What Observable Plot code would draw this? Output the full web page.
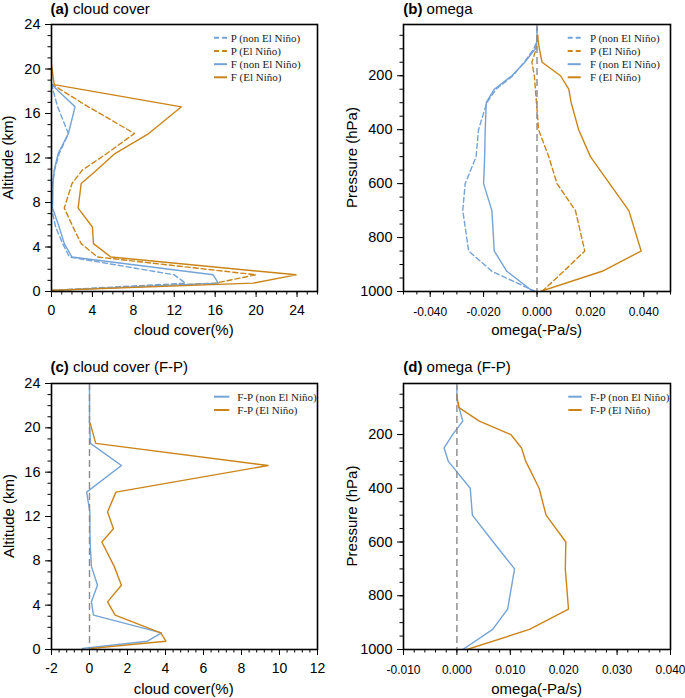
<!DOCTYPE html>
<html><head><meta charset="utf-8">
<script src="https://cdn.jsdelivr.net/npm/d3@7"></script>
<script src="https://cdn.jsdelivr.net/npm/@observablehq/plot@0.6"></script>
<style>
body{margin:0;background:#fff;}
#root{position:relative;width:685px;height:698px;font-family:"Liberation Sans",Arial,Helvetica,sans-serif;}
.pn{position:absolute;}
#ov{position:absolute;left:0;top:0;pointer-events:none;}
</style></head><body><div id="root"></div>
<script>
// Pressure levels (hPa) and their approximate altitudes (km)
const levels    = [1000, 925, 850, 700, 600, 500, 400, 300, 250, 200, 150, 100, 70, 50, 30, 20];
const altitudes = [0.1, 0.75, 1.5, 3.1, 4.3, 5.8, 7.5, 9.7, 10.9, 12.4, 14.2, 16.6, 18.6, 20.4, 23.8, 26.5];

// (a) cloud cover (%)
const cldP_non = [0, 13.1, 12.0, 1.75, 1.1, 0.4, 0.0, 0.1, 0.3, 0.75, 1.65, 0.6, 0, null, null, null];
const cldP_el  = [0, 16.0, 20.0, 4.5, 2.9, 2.1, 1.25, 2.0, 3.0, 5.4, 8.1, 3.6, 0.1, null, null, null];
const cldF_non = [0, 16.3, 15.8, 2.0, 1.25, 0.75, 0.1, 0.15, 0.26, 0.65, 1.65, 2.3, 0, null, null, null];
const cldF_el  = [0, 19.7, 23.9, 5.8, 4.1, 4.0, 2.6, 2.9, 4.4, 6.2, 9.5, 12.7, 0.26, 0, null, null];

// (b) omega (-Pa/s)
const omgP_non = [-0.0006, -0.0169, -0.0256, -0.0278, -0.0269, -0.0228, -0.0219, -0.0188, -0.0153, -0.0090, -0.0048, -0.0012, 0, 0, 0, 0];
const omgP_el  = [0.0019, 0.0100, 0.0179, 0.0144, 0.0075, 0.0044, 0.0006, -0.0002, -0.0006, -0.0010, -0.0019, -0.0003, 0, 0, null, null];
const omgF_non = [-0.0015, -0.0113, -0.0160, -0.0169, -0.0200, -0.0196, -0.0194, -0.0190, -0.0160, -0.0094, -0.0046, -0.0006, 0, 0, 0, 0];
const omgF_el  = [0.00125, 0.0244, 0.0390, 0.0344, 0.0272, 0.0200, 0.0156, 0.0128, 0.0119, 0.0088, 0.0019, 0.0009, 0.0004, 0.0003, null, null];

// (c) cloud cover F-P (%)
const cldFP_non = [-0.37, 3.05, 3.79, 0.21, 0.1, 0.42, 0.1, 0.03, 0.02, 0.02, -0.15, 1.68, 0.05, 0, 0, null];
const cldFP_el  = [0.1, 4.02, 3.75, 1.35, 0.95, 1.68, 1.3, 0.65, 1.26, 0.95, 1.39, 9.4, 0.33, 0.04, null, null];

// (d) omega F-P (-Pa/s)
const omgFP_non = [0.0011, 0.0067, 0.0095, 0.0108, 0.0068, 0.0029, 0.0025, -0.0016, -0.0024, -0.0008, 0.0011, 0.0004, 0, 0, 0, 0];
const omgFP_el  = [0.0019, 0.0136, 0.0209, 0.0203, 0.0204, 0.0167, 0.0154, 0.0129, 0.0121, 0.0101, 0.0042, 0.0004, 0.0001, 0, null, null];

// Tick values
const cldTicksA  = [0, 4, 8, 12, 16, 20, 24];
const cldTicksC  = [-2, 0, 2, 4, 6, 8, 10, 12];
const altTicks   = [0, 4, 8, 12, 16, 20, 24];
const omgTicksB  = [-0.04, -0.02, 0, 0.02, 0.04];
const omgTicksD  = [-0.01, 0, 0.01, 0.02, 0.03, 0.04];
const presTicks  = [200, 400, 600, 800, 1000];

// Titles / labels / legend text
const titles = [["(a)", " cloud cover"], ["(b)", " omega"], ["(c)", " cloud cover (F-P)"], ["(d)", " omega (F-P)"]];
const xLabels = ["cloud cover(%)", "omega(-Pa/s)", "cloud cover(%)", "omega(-Pa/s)"];
const yLabels = ["Altitude (km)", "Pressure (hPa)", "Altitude (km)", "Pressure (hPa)"];
const legend4 = ["P (non El Niño)", "P (El Niño)", "F (non El Niño)", "F (El Niño)"];
const legend2 = ["F-P (non El Niño)", "F-P (El Niño)"];

const BLUE = "#74a3d8", ORANGE = "#cb8418";

function steps(a, b, s) { const out = []; const n = Math.round((b - a) / s); for (let i = 0; i <= n; i++) out.push(+(a + i * s).toFixed(6)); return out; }
function rows(yv, vals) { return yv.map((y, i) => ({y, v: vals[i]})).filter(d => d.v != null && d.y != null); }

const root = document.getElementById("root");

function panel(o) {
  const marks = [];
  for (const s of o.series) {
    marks.push(Plot.line(rows(o.yv, s.values), {x: "v", y: "y", stroke: s.color, strokeWidth: 1.4,
      strokeDasharray: s.dash ? "5,3" : null, clip: true}));
  }
  if (o.zero) marks.push(Plot.ruleX([0], {stroke: "#8a8a8a", strokeWidth: 1.4, strokeDasharray: "7,4"}));
  marks.push(Plot.axisX({ticks: o.xMinor, tickSize: 3.5, tickFormat: () => "", label: null}));
  marks.push(Plot.axisX({ticks: o.xMajor, tickSize: 6, tickPadding: o.xPad, tickFormat: o.xFmt, label: null, fontSize: o.xFont}));
  marks.push(Plot.axisY({ticks: o.yMinor, tickSize: 3.5, tickFormat: () => "", label: null}));
  marks.push(Plot.axisY({ticks: o.yMajor, tickSize: 6, tickPadding: 5, tickFormat: d => String(d), label: null, fontSize: 14.5}));
  marks.push(Plot.frame({stroke: "#000", strokeWidth: 1.6}));
  const chart = Plot.plot({
    width: o.w, height: o.h,
    marginLeft: o.mL, marginRight: o.mR, marginTop: o.mT, marginBottom: o.mB,
    x: {domain: o.xDomain},
    y: {domain: o.yDomain},
    style: {fontFamily: '"Liberation Sans", Arial, Helvetica, sans-serif', fontSize: "13px", background: "transparent", color: "#000", overflow: "visible"},
    marks
  });
  const d = document.createElement("div");
  d.className = "pn"; d.style.left = o.left + "px"; d.style.top = o.top + "px";
  d.appendChild(chart);
  root.appendChild(d);
}

const fmtOmega = d => d.toFixed(3);
const fmtInt = d => String(d);

panel({left: 0, top: 0, w: 340, h: 345, mL: 51, mR: 23, mT: 24, mB: 54,
  xDomain: [0, 26], yDomain: [0, 24], xMajor: cldTicksA, xMinor: steps(0, 26, 1),
  yMajor: altTicks, yMinor: steps(0, 24, 1), xFmt: fmtInt, xFont: 14, xPad: 8, yv: altitudes, zero: false,
  series: [{values: cldP_non, color: BLUE, dash: true}, {values: cldP_el, color: ORANGE, dash: true},
           {values: cldF_non, color: BLUE}, {values: cldF_el, color: ORANGE}]});

panel({left: 340, top: 0, w: 345, h: 345, mL: 63, mR: 15, mT: 24, mB: 54,
  xDomain: [-0.05, 0.05], yDomain: [1000, 10], xMajor: omgTicksB, xMinor: steps(-0.05, 0.05, 0.005),
  yMajor: presTicks, yMinor: steps(50, 1000, 50), xFmt: fmtOmega, xFont: 12, xPad: 9.5, yv: levels, zero: true,
  series: [{values: omgP_non, color: BLUE, dash: true}, {values: omgP_el, color: ORANGE, dash: true},
           {values: omgF_non, color: BLUE}, {values: omgF_el, color: ORANGE}]});

panel({left: 0, top: 345, w: 340, h: 353, mL: 51, mR: 23, mT: 38, mB: 49,
  xDomain: [-2, 12], yDomain: [0, 24], xMajor: cldTicksC, xMinor: steps(-2, 12, 0.4),
  yMajor: altTicks, yMinor: steps(0, 24, 1), xFmt: fmtInt, xFont: 14, xPad: 8, yv: altitudes, zero: true,
  series: [{values: cldFP_non, color: BLUE}, {values: cldFP_el, color: ORANGE}]});

panel({left: 340, top: 345, w: 345, h: 353, mL: 63, mR: 15, mT: 38, mB: 49,
  xDomain: [-0.01, 0.04], yDomain: [1000, 10], xMajor: omgTicksD, xMinor: steps(-0.01, 0.04, 0.002),
  yMajor: presTicks, yMinor: steps(50, 1000, 50), xFmt: fmtOmega, xFont: 12, xPad: 9.5, yv: levels, zero: true,
  series: [{values: omgFP_non, color: BLUE}, {values: omgFP_el, color: ORANGE}]});

// Overlay: titles, axis labels, legends
const ov = d3.select(root).append("svg").attr("id", "ov").attr("width", 685).attr("height", 698);
const SANS = '"Liberation Sans", Arial, Helvetica, sans-serif';
const SERIF = '"Liberation Serif", "Times New Roman", serif';
const titlePos = [[50.5, 13.5], [403.3, 13.5], [50.5, 372], [403.3, 372]];
titles.forEach((t, i) => {
  const tx = ov.append("text").attr("x", titlePos[i][0]).attr("y", titlePos[i][1])
    .attr("font-family", SANS).attr("font-size", 15).attr("fill", "#000");
  tx.append("tspan").attr("font-weight", "bold").text(t[0]);
  tx.append("tspan").text(t[1]);
});
const xLabPos = [[183.7, 334.5], [536.7, 334.5], [183.7, 693.5], [536.7, 693.5]];
xLabels.forEach((t, i) => ov.append("text").attr("x", xLabPos[i][0]).attr("y", xLabPos[i][1])
  .attr("text-anchor", "middle").attr("font-family", SANS).attr("font-size", 15).text(t));
const yLabPos = [[7.5, 157.5], [351.7, 157.5], [8.3, 516], [351.7, 516]];
yLabels.forEach((t, i) => ov.append("text")
  .attr("transform", `translate(${yLabPos[i][0]},${yLabPos[i][1]}) rotate(-90)`)
  .attr("text-anchor", "middle").attr("dy", "0.35em").attr("font-family", SANS).attr("font-size", 15).text(t));

function legend(items, x1, x2, tx, ys) {
  items.forEach((it, i) => {
    ov.append("line").attr("x1", x1).attr("x2", x2).attr("y1", ys[i]).attr("y2", ys[i])
      .attr("stroke", it.color).attr("stroke-width", 2).attr("stroke-dasharray", it.dash ? "5,3" : null);
    ov.append("text").attr("x", tx).attr("y", ys[i]).attr("dy", "0.35em")
      .attr("font-family", SERIF).attr("font-size", 11).attr("fill", "#222").text(it.label);
  });
}
const leg4 = [{label: legend4[0], color: BLUE, dash: true}, {label: legend4[1], color: ORANGE, dash: true},
              {label: legend4[2], color: BLUE}, {label: legend4[3], color: ORANGE}];
const leg2 = [{label: legend2[0], color: BLUE}, {label: legend2[1], color: ORANGE}];
legend(leg4, 214, 227, 230.7, [37.7, 51, 64.2, 77.3]);
legend(leg4, 567.7, 580.7, 590, [37.7, 51, 64.2, 77.3]);
legend(leg2, 214, 229.3, 237.3, [396.7, 410]);
legend(leg2, 568.3, 581.7, 590, [396.7, 410]);
</script></body></html>
